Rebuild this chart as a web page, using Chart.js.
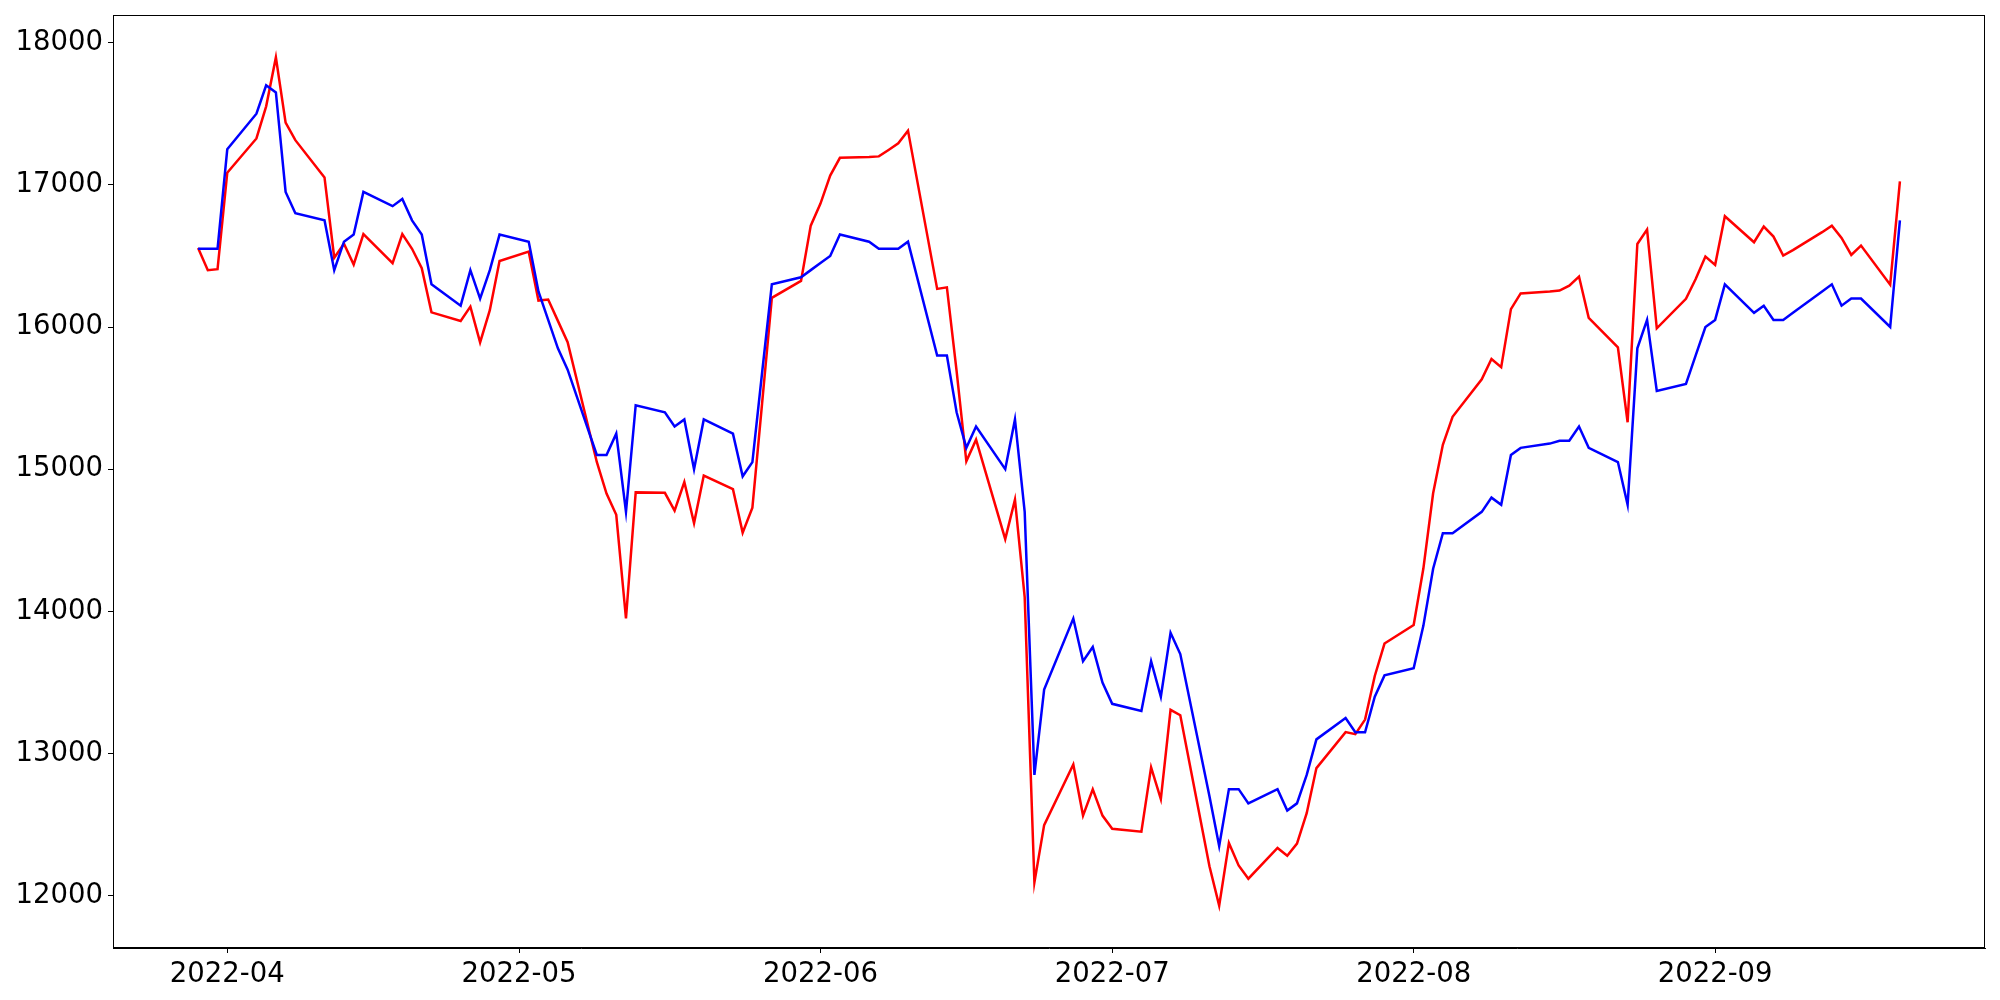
<!DOCTYPE html>
<html>
<head>
<meta charset="utf-8">
<script src="https://cdn.jsdelivr.net/npm/chart.js@4.4.1/dist/chart.umd.min.js"></script>
<style>
  html, body { margin: 0; padding: 0; background: #fff; }
  #wrap { width: 2000px; height: 1000px; position: relative; }
</style>
</head>
<body>
<div id="wrap"><canvas id="chart"></canvas></div>
<script>
// trading days shown on the x axis
const DATES = [
  '2022-03-29','2022-03-30','2022-03-31','2022-04-01',
  '2022-04-04','2022-04-05','2022-04-06','2022-04-07','2022-04-08',
  '2022-04-11','2022-04-12','2022-04-13','2022-04-14','2022-04-15',
  '2022-04-18','2022-04-19','2022-04-20','2022-04-21','2022-04-22',
  '2022-04-25','2022-04-26','2022-04-27','2022-04-28','2022-04-29',
  '2022-05-02','2022-05-03','2022-05-04','2022-05-05','2022-05-06',
  '2022-05-09','2022-05-10','2022-05-11','2022-05-12','2022-05-13',
  '2022-05-16','2022-05-17','2022-05-18','2022-05-19','2022-05-20',
  '2022-05-23','2022-05-24','2022-05-25','2022-05-26','2022-05-27',
  '2022-05-30','2022-05-31','2022-06-01','2022-06-02','2022-06-03',
  '2022-06-06','2022-06-07','2022-06-08','2022-06-09','2022-06-10',
  '2022-06-13','2022-06-14','2022-06-15','2022-06-16','2022-06-17',
  '2022-06-20','2022-06-21','2022-06-22','2022-06-23','2022-06-24',
  '2022-06-27','2022-06-28','2022-06-29','2022-06-30','2022-07-01',
  '2022-07-04','2022-07-05','2022-07-06','2022-07-07','2022-07-08',
  '2022-07-11','2022-07-12','2022-07-13','2022-07-14','2022-07-15',
  '2022-07-18','2022-07-19','2022-07-20','2022-07-21','2022-07-22',
  '2022-07-25','2022-07-26','2022-07-27','2022-07-28','2022-07-29',
  '2022-08-01','2022-08-02','2022-08-03','2022-08-04','2022-08-05',
  '2022-08-08','2022-08-09','2022-08-10','2022-08-11','2022-08-12',
  '2022-08-15','2022-08-16','2022-08-17','2022-08-18','2022-08-19',
  '2022-08-22','2022-08-23','2022-08-24','2022-08-25','2022-08-26',
  '2022-08-29','2022-08-30','2022-08-31','2022-09-01','2022-09-02',
  '2022-09-05','2022-09-06','2022-09-07','2022-09-08','2022-09-09',
  '2022-09-12','2022-09-13','2022-09-14','2022-09-15','2022-09-16',
  '2022-09-19','2022-09-20'
];

const BLUE_VALUES = [
  16550,16550,16550,17250,
  17500,17700,17650,16950,16800,
  16750,16400,16600,16650,16950,
  16850,16900,16750,16650,16300,
  16150,16400,16200,16400,16650,
  16600,16250,16050,15850,15700,
  15100,15100,15250,14700,15450,
  15400,15300,15350,15000,15350,
  15250,14950,15050,15680,16300,
  16350,16400,16450,16500,16650,
  16600,16550,16550,16550,16600,
  15800,15800,15400,15150,15300,
  15000,15350,14700,12850,13450,
  13950,13650,13750,13500,13350,
  13300,13650,13400,13850,13700,
  12700,12350,12750,12750,12650,
  12750,12600,12650,12850,13100,
  13250,13150,13150,13400,13550,
  13600,13900,14300,14550,14550,
  14700,14800,14750,15100,15150,
  15180,15200,15200,15300,15150,
  15050,14750,15850,16050,15550,
  15600,15800,16000,16050,16300,
  16100,16150,16050,16050,16100,
  16250,16300,16150,16200,16200,
  16000,16750
];

const RED_VALUES = [
  16555,16400,16407,17085,
  17326,17552,17896,17437,17314,
  17052,16487,16585,16439,16653,
  16449,16653,16550,16414,16103,
  16042,16143,15892,16118,16464,
  16530,16186,16193,16043,15893,
  15051,14829,14679,13950,14837,
  14834,14709,14910,14621,14955,
  14860,14554,14729,15465,16205,
  16324,16713,16868,17065,17190,
  17196,17200,17245,17292,17381,
  16268,16279,15690,15055,15208,
  14508,14786,14100,12094,12497,
  12924,12564,12748,12564,12471,
  12451,12903,12680,13308,13270,
  12208,11931,12371,12213,12120,
  12336,12282,12367,12581,12898,
  13151,13137,13239,13546,13774,
  13904,14303,14831,15172,15369,
  15632,15775,15717,16126,16236,
  16249,16256,16291,16355,16064,
  15857,15330,16584,16685,15991,
  16198,16338,16495,16437,16779,
  16596,16706,16636,16502,16541,
  16667,16713,16627,16507,16573,
  16298,17025
];

const Y_TICKS = [12000, 13000, 14000, 15000, 16000, 17000, 18000];
const MONTH_TICKS = ['2022-04-01','2022-05-01','2022-06-01','2022-07-01','2022-08-01','2022-09-01'];

const FONT = { family: 'DejaVu Sans', size: 27.5 };

// dates -> day numbers so the x axis is a true linear time axis
const toDay = s => Date.UTC(+s.slice(0, 4), +s.slice(5, 7) - 1, +s.slice(8, 10)) / 864e5;
const days = DATES.map(toDay);

// matplotlib-like 5% margins
const xSpan = days[days.length - 1] - days[0];
const xMin = days[0] - xSpan * 0.05;
const xMax = days[days.length - 1] + xSpan * 0.05;
const allVals = BLUE_VALUES.concat(RED_VALUES);
const yLo = Math.min(...allVals), yHi = Math.max(...allVals);
const yMin = yLo - (yHi - yLo) * 0.05;
const yMax = yHi + (yHi - yLo) * 0.05;

const toPoints = vals => vals.map((v, i) => ({ x: days[i], y: v }));

// full box around the plot area
const frame = {
  id: 'frame',
  afterDraw(chart) {
    const { ctx, chartArea: a } = chart;
    ctx.save();
    ctx.strokeStyle = '#000';
    ctx.lineWidth = 1;
    ctx.strokeRect(a.left + 0.5, a.top + 0.5, a.right - a.left - 1, a.bottom - a.top - 1);
    ctx.restore();
  }
};

new Chart(document.getElementById('chart'), {
  type: 'line',
  data: {
    datasets: [
      { data: toPoints(BLUE_VALUES), borderColor: '#0000ff', borderWidth: 2.5, pointRadius: 0, tension: 0, fill: false },
      { data: toPoints(RED_VALUES), borderColor: '#ff0000', borderWidth: 2.5, pointRadius: 0, tension: 0, fill: false }
    ]
  },
  options: {
    responsive: true,
    maintainAspectRatio: false,
    animation: false,
    events: [],
    layout: { padding: { left: 0, right: 15, top: 15, bottom: 0 } },
    plugins: { legend: { display: false }, tooltip: { enabled: false } },
    scales: {
      x: {
        type: 'linear',
        min: xMin, max: xMax,
        afterFit: s => { s.height = 52; s.paddingLeft = 0; s.paddingRight = 0; },
        afterBuildTicks: s => { s.ticks = MONTH_TICKS.map(d => ({ value: toDay(d) })); },
        grid: { drawOnChartArea: false, drawTicks: true, tickLength: 5, color: '#000' },
        border: { display: true, color: '#000', width: 1 },
        ticks: {
          color: '#000', font: FONT, padding: 5, maxRotation: 0, autoSkip: false,
          callback: v => {
            const d = new Date(v * 864e5);
            return d.getUTCFullYear() + '-' + String(d.getUTCMonth() + 1).padStart(2, '0');
          }
        }
      },
      y: {
        min: yMin, max: yMax,
        afterFit: s => { s.width = 113; s.paddingTop = 0; s.paddingBottom = 0; },
        afterBuildTicks: s => { s.ticks = Y_TICKS.map(v => ({ value: v })); },
        grid: { drawOnChartArea: false, drawTicks: true, tickLength: 5, color: '#000' },
        border: { display: true, color: '#000', width: 1 },
        ticks: { color: '#000', font: FONT, padding: 5, autoSkip: false, callback: v => String(v) }
      }
    }
  },
  plugins: [frame]
});
</script>
</body>
</html>
